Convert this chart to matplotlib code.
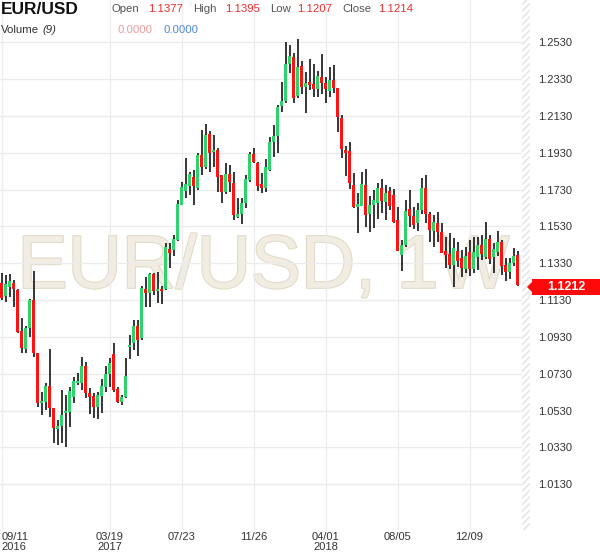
import matplotlib
matplotlib.use("Agg")
import matplotlib.pyplot as plt
import matplotlib.patheffects as pe
from matplotlib.patches import Rectangle, Polygon
import matplotlib.transforms as mtransforms
import numpy as np
import pandas as pd

plt.rcParams['font.family'] = ['Liberation Sans', 'DejaVu Sans']

# ---------------- data (weekly EUR/USD candles) ----------------
start_week = "2016-09-11"
opens = [1.1221, 1.1153, 1.1203, 1.1225, 1.1185, 1.0963, 1.0866, 1.0977, 1.1131, 1.0841,
         1.0572, 1.0579, 1.0664, 1.0546, 1.0431, 1.0448, 1.0519, 1.0524, 1.0606, 1.0679,
         1.0679, 1.0773, 1.0624, 1.0610, 1.0551, 1.0610, 1.0660, 1.0729, 1.0838, 1.0646,
         1.0579, 1.0606, 1.0877, 1.0896, 1.0990, 1.0925, 1.1189, 1.1167, 1.1272, 1.1181,
         1.1189, 1.1189, 1.1406, 1.1402, 1.1457, 1.1647, 1.1724, 1.1750, 1.1797, 1.1738,
         1.1916, 1.1851, 1.2032, 1.1936, 1.1945, 1.1810, 1.1716, 1.1813, 1.1765, 1.1583,
         1.1596, 1.1656, 1.1782, 1.1923, 1.1876, 1.1759, 1.1741, 1.1837, 1.1989, 1.2019,
         1.2184, 1.2211, 1.2412, 1.2450, 1.2239, 1.2400, 1.2286, 1.2316, 1.2304, 1.2275,
         1.2340, 1.2311, 1.2268, 1.2325, 1.2280, 1.2117, 1.1945, 1.1940, 1.1755, 1.1637,
         1.1641, 1.1755, 1.1598, 1.1647, 1.1658, 1.1737, 1.1665, 1.1723, 1.1701, 1.1565,
         1.1375, 1.1429, 1.1623, 1.1587, 1.1551, 1.1619, 1.1737, 1.1598, 1.1507, 1.1551,
         1.1502, 1.1399, 1.1380, 1.1321, 1.1399, 1.1360, 1.1297, 1.1389, 1.1297, 1.1363,
         1.1432, 1.1364, 1.1460, 1.1364, 1.1390, 1.1447, 1.1321, 1.1283, 1.1330, 1.1377]
highs = [1.1276, 1.1267, 1.1272, 1.1239, 1.1189, 1.1031, 1.0990, 1.1135, 1.1290, 1.0841,
         1.0633, 1.0678, 1.0863, 1.0546, 1.0479, 1.0642, 1.0615, 1.0660, 1.0715, 1.0733,
         1.0820, 1.0796, 1.0651, 1.0624, 1.0633, 1.0700, 1.0773, 1.0814, 1.0896, 1.0660,
         1.0615, 1.0814, 1.0941, 1.1022, 1.1022, 1.1207, 1.1257, 1.1279, 1.1276, 1.1285,
         1.1207, 1.1442, 1.1439, 1.1484, 1.1674, 1.1773, 1.1900, 1.1827, 1.1837, 1.1931,
         1.2054, 1.2085, 1.2050, 1.2027, 1.1958, 1.1810, 1.1873, 1.1864, 1.1827, 1.1683,
         1.1683, 1.1810, 1.1933, 1.1955, 1.1882, 1.1819, 1.1896, 1.2017, 1.2081, 1.2190,
         1.2314, 1.2532, 1.2515, 1.2470, 1.2546, 1.2426, 1.2369, 1.2438, 1.2412, 1.2376,
         1.2467, 1.2339, 1.2396, 1.2407, 1.2280, 1.2135, 1.1967, 1.1989, 1.1819, 1.1713,
         1.1827, 1.1840, 1.1696, 1.1728, 1.1768, 1.1786, 1.1755, 1.1746, 1.1732, 1.1638,
         1.1457, 1.1674, 1.1728, 1.1638, 1.1656, 1.1792, 1.1810, 1.1610, 1.1592, 1.1610,
         1.1551, 1.1475, 1.1493, 1.1466, 1.1448, 1.1402, 1.1420, 1.1457, 1.1475, 1.1475,
         1.1484, 1.1556, 1.1484, 1.1440, 1.1505, 1.1457, 1.1359, 1.1357, 1.1412, 1.1395]
lows = [1.1131, 1.1122, 1.1149, 1.1094, 1.0950, 1.0845, 1.0841, 1.0932, 1.0820, 1.0551,
        1.0506, 1.0533, 1.0497, 1.0356, 1.0343, 1.0353, 1.0331, 1.0443, 1.0570, 1.0669,
        1.0642, 1.0597, 1.0512, 1.0488, 1.0483, 1.0516, 1.0633, 1.0660, 1.0633, 1.0570,
        1.0561, 1.0597, 1.0809, 1.0859, 1.0827, 1.0914, 1.1094, 1.1094, 1.1158, 1.1116,
        1.1109, 1.1185, 1.1303, 1.1370, 1.1453, 1.1647, 1.1683, 1.1701, 1.1647, 1.1728,
        1.1810, 1.1840, 1.1827, 1.1855, 1.1719, 1.1656, 1.1705, 1.1719, 1.1565, 1.1575,
        1.1542, 1.1629, 1.1773, 1.1873, 1.1723, 1.1710, 1.1719, 1.1831, 1.1907, 1.1929,
        1.2153, 1.2200, 1.2363, 1.2199, 1.2228, 1.2252, 1.2145, 1.2271, 1.2233, 1.2231,
        1.2249, 1.2202, 1.2233, 1.2255, 1.2045, 1.1900, 1.1804, 1.1734, 1.1629, 1.1493,
        1.1641, 1.1529, 1.1502, 1.1520, 1.1569, 1.1602, 1.1565, 1.1619, 1.1547, 1.1398,
        1.1288, 1.1418, 1.1529, 1.1515, 1.1507, 1.1598, 1.1547, 1.1447, 1.1417, 1.1447,
        1.1384, 1.1303, 1.1297, 1.1203, 1.1312, 1.1256, 1.1278, 1.1261, 1.1278, 1.1294,
        1.1348, 1.1353, 1.1326, 1.1276, 1.1370, 1.1267, 1.1234, 1.1245, 1.1316, 1.1207]
closes = [1.1140, 1.1217, 1.1232, 1.1189, 1.0959, 1.0872, 1.0977, 1.1131, 1.0845, 1.0573,
          1.0579, 1.0664, 1.0546, 1.0437, 1.0448, 1.0508, 1.0524, 1.0637, 1.0691, 1.0691,
          1.0773, 1.0627, 1.0602, 1.0551, 1.0615, 1.0664, 1.0729, 1.0787, 1.0642, 1.0579,
          1.0606, 1.0718, 1.0886, 1.0990, 1.0914, 1.1196, 1.1171, 1.1272, 1.1181, 1.1189,
          1.1181, 1.1420, 1.1388, 1.1460, 1.1650, 1.1743, 1.1760, 1.1815, 1.1750, 1.1916,
          1.1851, 1.2027, 1.1931, 1.1945, 1.1800, 1.1719, 1.1813, 1.1773, 1.1592, 1.1596,
          1.1656, 1.1788, 1.1923, 1.1878, 1.1751, 1.1741, 1.1851, 1.1990, 1.2021, 1.2180,
          1.2211, 1.2411, 1.2456, 1.2228, 1.2398, 1.2285, 1.2309, 1.2298, 1.2276, 1.2347,
          1.2311, 1.2274, 1.2325, 1.2280, 1.2123, 1.1949, 1.1931, 1.1768, 1.1637, 1.1652,
          1.1761, 1.1592, 1.1647, 1.1674, 1.1737, 1.1670, 1.1710, 1.1641, 1.1556, 1.1399,
          1.1429, 1.1614, 1.1587, 1.1538, 1.1619, 1.1737, 1.1598, 1.1511, 1.1556, 1.1502,
          1.1388, 1.1375, 1.1321, 1.1411, 1.1340, 1.1305, 1.1370, 1.1297, 1.1392, 1.1429,
          1.1381, 1.1460, 1.1352, 1.1409, 1.1447, 1.1316, 1.1285, 1.1330, 1.1370, 1.1214]

tick_dates = ["2016-09-11", "2017-03-19", "2017-07-23", "2017-11-26", "2018-04-01", "2018-08-05", "2018-12-09"]
tick_labels = ["09/11\n2016", "03/19\n2017", "07/23", "11/26", "04/01\n2018", "08/05", "12/09"]
y_ticks = [1.0130, 1.0330, 1.0530, 1.0730, 1.0930, 1.1130, 1.1330, 1.1530, 1.1730, 1.1930, 1.2130, 1.2330, 1.2530]
last_price_label = "1.1212"
header_values = {"Open": "1.1377", "High": "1.1395", "Low": "1.1207", "Close": "1.1214"}
volume_values = ["0.0000", "0.0000"]

# ---------------- figure ----------------
W, H = 600, 558
fig = plt.figure(figsize=(W / 100, H / 100), dpi=100)
fig.patch.set_facecolor('white')
ax = fig.add_axes([0, 28 / H, 530 / W, 530 / H])
ax.set_facecolor('white')

o = np.array(opens); h = np.array(highs); l = np.array(lows); c = np.array(closes)
n = len(o)
idx = np.arange(n)
dates = pd.date_range(start_week, periods=n, freq='7D')

GREEN = '#2fd36b'
RED = '#ff1212'
up = c >= o
colors = np.where(up, GREEN, RED)

ax.vlines(idx, l, h, color='black', linewidth=1.1, zorder=3)
bottoms = np.minimum(o, c)
heights = np.maximum(np.abs(c - o), 0.0009)
ax.bar(idx, heights, bottom=bottoms, width=0.78, color=colors, linewidth=0, zorder=4)

# axes ranges
ax.set_xlim(-0.375, 132.125)
ax.set_ylim(0.98819, 1.27597)

for s in ax.spines.values():
    s.set_visible(False)

# grid
ax.set_axisbelow(True)
ax.grid(True, color='#ececec', linewidth=1.0)

# x ticks
tick_pos = [int(np.argmin(np.abs(dates - pd.Timestamp(d)))) for d in tick_dates]
ax.set_xticks(tick_pos)
ax.set_xticklabels(tick_labels, fontsize=8, color='#333333', linespacing=1.0)
ax.get_xticklabels()[0].set_horizontalalignment('left')
ax.tick_params(axis='x', length=0, pad=1.5)

# y ticks on right
ax.yaxis.tick_right()
ax.set_yticks(y_ticks)
ax.set_yticklabels([f"{v:.4f}" for v in y_ticks], fontsize=8, color='#333333')
ax.tick_params(axis='y', length=0, pad=5.5)

# hatched future area
trans = mtransforms.blended_transform_factory(ax.transData, ax.transAxes)
ax.add_patch(Rectangle((130.1, 0), 2.1, 1, transform=trans, facecolor='white',
                       edgecolor='#e3e3e3', hatch='/////', linewidth=0, zorder=1))

# watermark
ax.text(0.497, 0.457, "EUR/USD, 1W", transform=ax.transAxes, ha='center', va='baseline',
        fontsize=54, color='#f1ede3', zorder=0.2,
        path_effects=[pe.withStroke(linewidth=1.6, foreground='#e2dbc9')])

# last price label
def px(x, y):
    return (x / W, 1 - y / H)

poly = Polygon([px(527, 287), px(532, 282), px(532, 279), px(600, 279), px(600, 295),
                px(532, 295), px(532, 292)], closed=True, transform=fig.transFigure,
               facecolor='#ff0a0a', edgecolor='none', zorder=5)
fig.patches.append(poly)
fig.text(566 / W, 1 - 287.5 / H, last_price_label, ha='center', va='center',
         fontsize=9, fontweight='bold', color='white', zorder=6)

# header
fig.text(1 / W, 1 - 14 / H, "EUR/USD", fontsize=12.5, fontweight='bold', color='#111111', va='baseline')
positions = {"Open": (112, 148), "High": (193, 225), "Low": (270, 297), "Close": (342, 378)}
for key, (xl, xv) in positions.items():
    fig.text(xl / W, 1 - 12.5 / H, key, fontsize=8.2, color='#555555', va='baseline')
    fig.text(xv / W, 1 - 12.5 / H, header_values[key], fontsize=8.2, color='#ee2d2d', va='baseline')

fig.text(1 / W, 1 - 33 / H, "Volume", fontsize=8.2, color='#333333', va='baseline')
fig.text(42 / W, 1 - 33 / H, "(9)", fontsize=8.2, color='#333333', va='baseline', style='italic')
fig.text(118 / W, 1 - 33 / H, volume_values[0], fontsize=8.2, color='#f29b9b', va='baseline')
fig.text(163 / W, 1 - 33 / H, volume_values[1], fontsize=8.2, color='#4f86df', va='baseline')

fig.savefig("out.png", dpi=100, facecolor='white')
